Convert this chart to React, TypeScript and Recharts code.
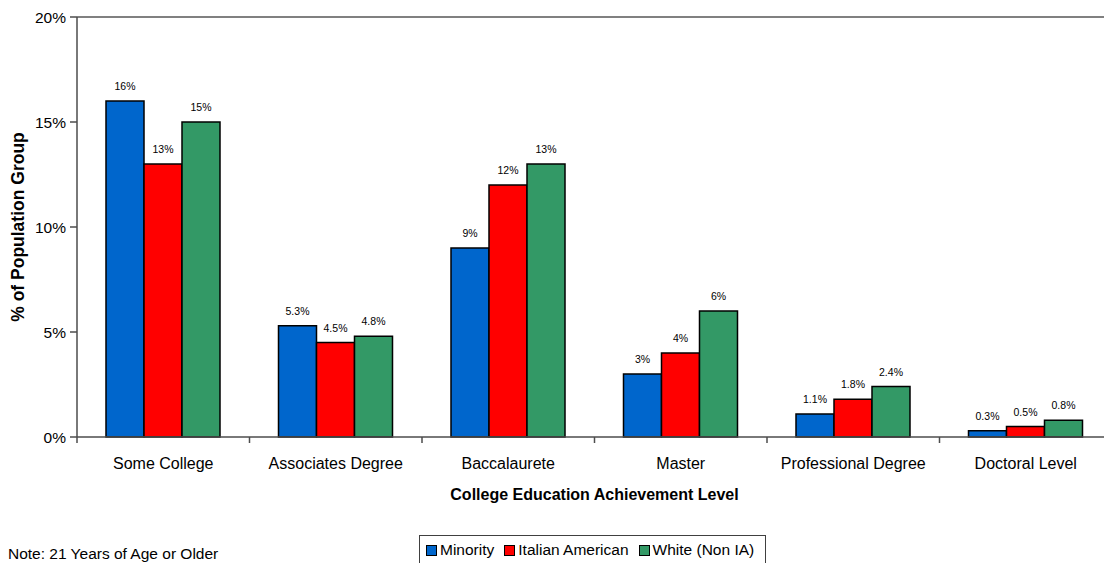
import React from "react";
import {
  BarChart,
  Bar,
  XAxis,
  YAxis,
  ReferenceLine,
  LabelList,
} from "recharts";

const categories = [
  "Some College",
  "Associates Degree",
  "Baccalaurete",
  "Master",
  "Professional Degree",
  "Doctoral Level",
];
const minority = [16, 5.3, 9, 3, 1.1, 0.3];
const italianAmerican = [13, 4.5, 12, 4, 1.8, 0.5];
const whiteNonIA = [15, 4.8, 13, 6, 2.4, 0.8];
const yTicks = [0, 5, 10, 15, 20];

const series = [
  { key: "minority", name: "Minority", color: "#0066CC" },
  { key: "italian", name: "Italian American", color: "#FF0000" },
  { key: "white", name: "White (Non IA)", color: "#339966" },
];

const data = categories.map((name, i) => ({
  name,
  minority: minority[i],
  italian: italianAmerican[i],
  white: whiteNonIA[i],
}));

const font = "'Liberation Sans', Arial, sans-serif";
const axisColor = "#4d4d4d";

// category label centered in band, tick mark at the band's left edge
const CategoryTick = (props: any) => {
  const { x, y, payload } = props;
  const half = payload?.offset ?? 0;
  return (
    <g>
      <line x1={x - half} x2={x - half} y1={y} y2={y + 6} stroke={axisColor} strokeWidth={1.5} />
      <text x={x} y={y + 32} textAnchor="middle" fontSize={16} fill="#000" fontFamily={font}>
        {payload.value}
      </text>
    </g>
  );
};

export default function App() {
  return (
    <div style={{ position: "fixed", left: 0, top: 0, width: 1104, height: 563, overflow: "hidden", background: "#fff", fontFamily: font }}>
      <BarChart
        width={1112}
        height={563}
        data={data}
        margin={{ top: 17, right: 0, left: 0, bottom: 0 }}
        barCategoryGap={29}
        barGap={0}
      >
        <ReferenceLine y={20} stroke="#808080" strokeWidth={2} />
        <XAxis
          dataKey="name"
          height={126}
          tickLine={false}
          tickSize={0}
          tickMargin={0}
          stroke={axisColor}
          strokeWidth={1.5}
          interval={0}
          tick={<CategoryTick />}
          label={{
            value: "College Education Achievement Level",
            position: "insideBottom",
            offset: 63,
            style: { fontWeight: "bold", fontSize: 16, fill: "#000", fontFamily: font },
          }}
        />
        <YAxis
          width={77}
          domain={[0, 20]}
          ticks={yTicks}
          tickFormatter={(v) => `${v}%`}
          stroke={axisColor}
          strokeWidth={1.5}
          tickSize={7}
          tickMargin={4}
          tick={{ fontSize: 15.5, fill: "#000", fontFamily: font }}
          label={{
            value: "% of Population Group",
            angle: -90,
            position: "insideLeft",
            offset: 18,
            style: { fontWeight: "bold", fontSize: 17.5, fill: "#000", fontFamily: font, textAnchor: "middle" },
          }}
        />
        {series.map((s) => (
          <Bar
            key={s.key}
            dataKey={s.key}
            name={s.name}
            fill={s.color}
            stroke="#000"
            strokeWidth={1.5}
            isAnimationActive={false}
          >
            <LabelList
              dataKey={s.key}
              position="top"
              offset={11}
              formatter={(v: any) => `${v}%`}
              style={{ fontSize: 10.5, fill: "#000", fontFamily: font }}
            />
          </Bar>
        ))}
      </BarChart>
      <div style={{ position: "absolute", left: 8, top: 545, fontSize: 15.5, color: "#000" }}>
        Note: 21 Years of Age or Older
      </div>
      <div
        style={{
          position: "absolute",
          left: 419,
          top: 535,
          width: 347,
          height: 30,
          border: "1px solid #404040",
          boxSizing: "border-box",
          display: "flex",
          alignItems: "center",
          paddingLeft: 6,
          fontSize: 15.5,
          color: "#000",
        }}
      >
        {series.map((s) => (
          <span key={s.key} style={{ display: "flex", alignItems: "center", marginRight: 10 }}>
            <span style={{ display: "inline-block", width: 9, height: 9, background: s.color, border: "1.5px solid #000", marginRight: 3 }} />
            {s.name}
          </span>
        ))}
      </div>
    </div>
  );
}
